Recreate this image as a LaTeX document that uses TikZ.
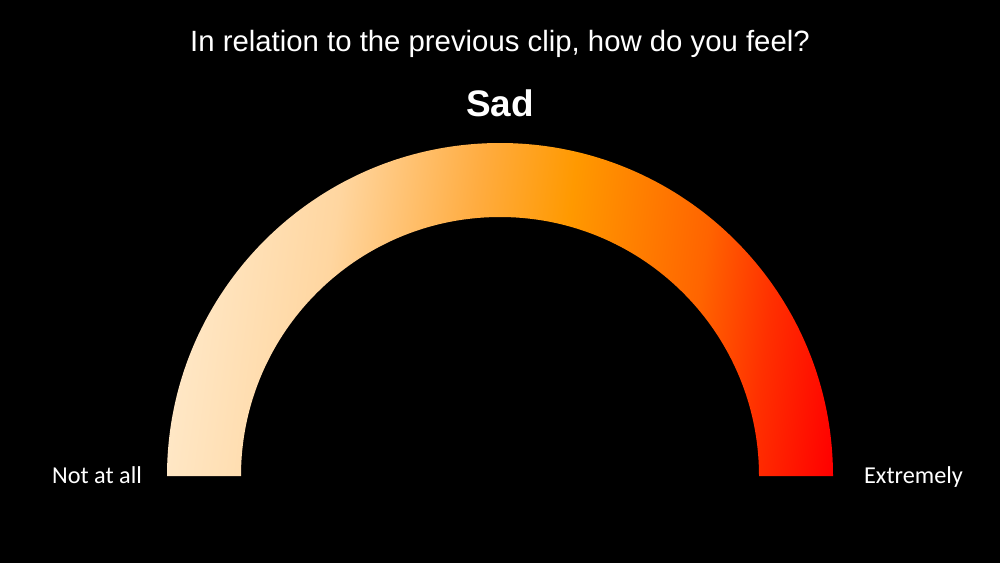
\documentclass[tikz,border=0pt]{standalone}
\usepackage{fontspec}
\setmainfont{Liberation Sans}
\newfontfamily\labelfont{Carlito}
\definecolor{gcream}{RGB}{255,236,208}
\definecolor{gpeach}{RGB}{255,214,160}
\definecolor{glight}{RGB}{255,172,64}
\definecolor{gorange}{RGB}{255,153,0}
\definecolor{gdeep}{RGB}{255,100,0}
\definecolor{gscarlet}{RGB}{255,48,0}
\definecolor{gred}{RGB}{255,0,0}
\pgfdeclarehorizontalshading{gaugeshade}{100bp}{color(0bp)=(gcream); color(22bp)=(gcream); color(36bp)=(gpeach); color(47bp)=(glight); color(54.5bp)=(gorange); color(65.7bp)=(gdeep); color(71.4bp)=(gscarlet); color(78bp)=(gred); color(100bp)=(gred)}
\begin{document}
\begin{tikzpicture}[x=0.01cm,y=-0.01cm,
  titletext/.style={text=white,inner sep=0pt,anchor=base,font=\fontsize{8.34pt}{10pt}\selectfont},
  headtext/.style={text=white,inner sep=0pt,anchor=base,font=\fontsize{10.5pt}{12pt}\selectfont\bfseries},
  endlabel/.style={text=white,inner sep=0pt,anchor=base,font=\labelfont\fontsize{6.9pt}{8pt}\selectfont}]
\fill[black] (0,0) rectangle (1000,563);
\useasboundingbox (0,0) rectangle (1000,563);
\shade[shading=gaugeshade,shading angle=-7.6]
  (167,476) arc[start angle=180,end angle=360,radius=333]
  -- (759,476) arc[start angle=360,end angle=180,radius=259] -- cycle;
\node[titletext] (title) at (500,51) {In relation to the previous clip, how do you feel?};
\node[headtext] (head) at (500,116) {Sad};
\node[endlabel] (low) at (97,483) {Not at all};
\node[endlabel] (high) at (913.5,483) {Extremely};
\end{tikzpicture}
\end{document}
